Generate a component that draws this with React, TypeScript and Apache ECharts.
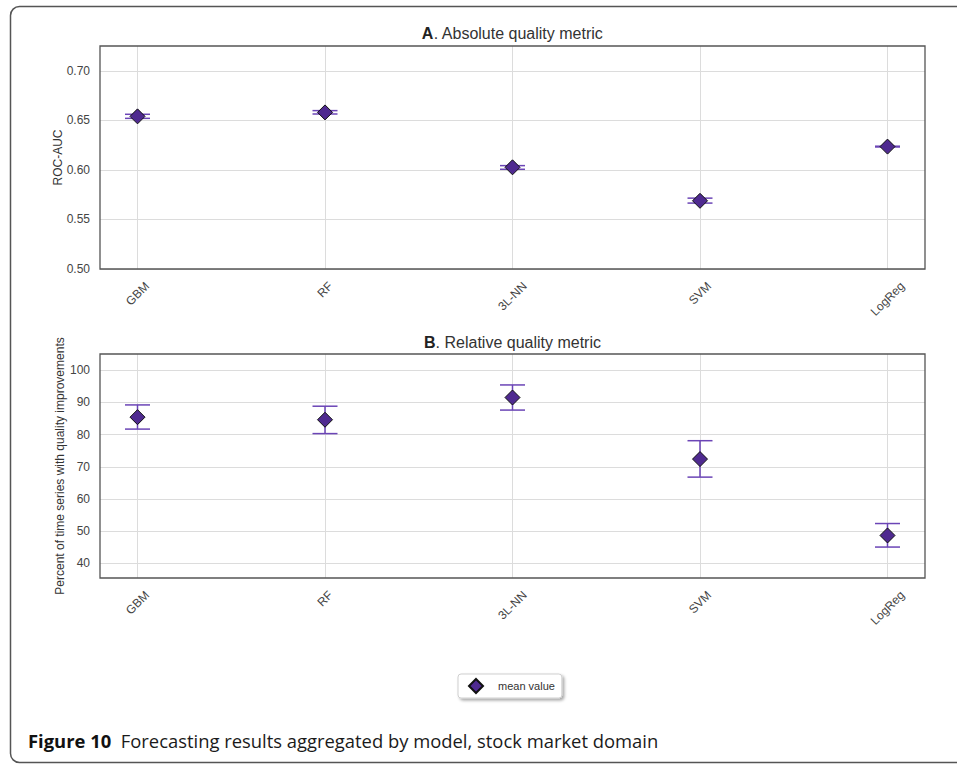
import React, { useEffect, useRef } from "react";
import * as echarts from "echarts";

const categories = ["GBM", "RF", "3L-NN", "SVM", "LogReg"];
const aucMean = [0.654, 0.658, 0.6026, 0.5688, 0.6235];
const aucLow = [0.652, 0.6564, 0.6006, 0.5665, 0.6231];
const aucHigh = [0.6561, 0.6598, 0.6043, 0.5715, 0.6239];
const relMean = [85.4, 84.6, 91.5, 72.4, 48.7];
const relLow = [81.7, 80.3, 87.6, 66.8, 45.1];
const relHigh = [89.2, 88.8, 95.4, 78.1, 52.4];
const aucTicks = [0.5, 0.55, 0.6, 0.65, 0.7];
const relTicks = [40, 50, 60, 70, 80, 90, 100];
const catPositions = [0, 1, 2, 3, 4];

const FONT = "Liberation Sans, Arial, sans-serif";
const CAPFONT = "Open Sans, Noto Sans, sans-serif";
const ERR = "#6b45b6";
const FILL = "#4f2a90";

function measure(s: string, font: string) {
  const c = document.createElement("canvas").getContext("2d");
  if (!c) return s.length * 7;
  c.font = font;
  return c.measureText(s).width;
}

function errRender(params: any, api: any) {
  const x = api.value(0);
  const lo = api.coord([x, api.value(1)]);
  const hi = api.coord([x, api.value(2)]);
  const hw = 12.5;
  const style = { stroke: ERR, lineWidth: 1.5, fill: "none" };
  return {
    type: "group",
    children: [
      { type: "line", shape: { x1: lo[0], y1: lo[1], x2: hi[0], y2: hi[1] }, style },
      { type: "line", shape: { x1: lo[0] - hw, y1: lo[1], x2: lo[0] + hw, y2: lo[1] }, style },
      { type: "line", shape: { x1: hi[0] - hw, y1: hi[1], x2: hi[0] + hw, y2: hi[1] }, style },
    ],
  };
}

function xAxisCfg(gridIndex: number) {
  // centre each rotated label under its tick (matplotlib style)
  const rich: any = {};
  categories.forEach((c, i) => {
    const L = measure(c, "12px 'Liberation Sans'");
    const s = L / 2;
    rich["c" + i] = {
      fontSize: 12,
      color: "#444",
      fontFamily: FONT,
      padding: [s, s, 0, 0],
    };
  });
  return {
    type: "value",
    gridIndex,
    min: -0.2,
    max: 4.2,
    axisLine: { show: false },
    axisTick: { show: false, customValues: catPositions },
    axisLabel: {
      customValues: catPositions,
      rotate: 45,
      margin: 15,
      align: "center",
      verticalAlign: "middle",
      fontSize: 12,
      color: "#444",
      fontFamily: FONT,
      formatter: (v: number) => {
        const i = Math.round(v);
        return categories[i] !== undefined ? `{c${i}|${categories[i]}}` : "";
      },
      rich,
    },
    splitLine: { show: true, lineStyle: { color: "#dcdcdc", width: 1 } },
  };
}

export default function App() {
  const ref = useRef<HTMLDivElement>(null);
  useEffect(() => {
    if (!ref.current) return;
    const chart = echarts.init(ref.current, null, { renderer: "svg" });
    const option: any = {
      animation: false,
      backgroundColor: "#fff",
      grid: [
        { left: 100, top: 46, width: 825, height: 223, show: true, borderColor: "#555", borderWidth: 1.3, backgroundColor: "transparent", z: 3 },
        { left: 100, top: 354, width: 825, height: 224, show: true, borderColor: "#555", borderWidth: 1.3, backgroundColor: "transparent", z: 3 },
      ],
      xAxis: [xAxisCfg(0), xAxisCfg(1)],
      yAxis: [
        {
          type: "value",
          gridIndex: 0,
          min: 0.5,
          max: 0.725,
          axisLine: { show: false },
          axisTick: { show: false, customValues: aucTicks },
          axisLabel: {
            customValues: aucTicks,
            margin: 10,
            fontSize: 12,
            color: "#444",
            fontFamily: FONT,
            formatter: (v: number) => v.toFixed(2),
          },
          splitLine: { show: true, lineStyle: { color: "#dcdcdc", width: 1 } },
          name: "ROC-AUC",
          nameLocation: "middle",
          nameGap: 36,
          nameMoveOverlap: false,
          nameTextStyle: { fontSize: 12, color: "#333", fontFamily: FONT },
        },
        {
          type: "value",
          gridIndex: 1,
          min: 35.5,
          max: 105,
          axisLine: { show: false },
          axisTick: { show: false, customValues: relTicks },
          axisLabel: {
            customValues: relTicks,
            margin: 10,
            fontSize: 12,
            color: "#444",
            fontFamily: FONT,
          },
          splitLine: { show: true, lineStyle: { color: "#dcdcdc", width: 1 } },
          name: "Percent of time series with quality improvements",
          nameLocation: "middle",
          nameGap: 34,
          nameMoveOverlap: false,
          nameTextStyle: { fontSize: 12, color: "#333", fontFamily: FONT },
        },
      ],
      legend: {
        data: [{ name: "mean value", icon: "diamond" }],
        left: 458,
        top: 674,
        orient: "horizontal",
        itemWidth: 14,
        itemHeight: 14,
        padding: [4, 7, 4, 10],
        backgroundColor: "#fff",
        borderColor: "#cfcfcf",
        borderWidth: 1,
        borderRadius: 3,
        shadowColor: "rgba(0,0,0,0.35)",
        shadowBlur: 3,
        shadowOffsetX: 2,
        shadowOffsetY: 2,
        textStyle: { fontSize: 11, color: "#333", fontFamily: FONT, padding: [0, 0, 0, 10] },
      },
      graphic: [
        {
          type: "rect",
          shape: { x: 10.5, y: 6.5, width: 960, height: 756, r: 9 },
          style: { fill: "none", stroke: "#555", lineWidth: 1.5 },
          silent: true,
        },
        {
          type: "text",
          x: 512.5,
          y: 33,
          style: {
            text: "{b|A}. Absolute quality metric",
            fontSize: 16,
            fontFamily: FONT,
            fill: "#333",
            align: "center",
            verticalAlign: "middle",
            rich: { b: { fontWeight: "bold", fontSize: 16, fontFamily: FONT, fill: "#222" } },
          },
        },
        {
          type: "text",
          x: 512.5,
          y: 342,
          style: {
            text: "{b|B}. Relative quality metric",
            fontSize: 16,
            fontFamily: FONT,
            fill: "#333",
            align: "center",
            verticalAlign: "middle",
            rich: { b: { fontWeight: "bold", fontSize: 16, fontFamily: FONT, fill: "#222" } },
          },
        },
        {
          type: "text",
          x: 28,
          y: 740,
          style: {
            text: "{b|Figure 10}  Forecasting results aggregated by model, stock market domain",
            fontSize: 18.4,
            fontFamily: CAPFONT,
            fill: "#1a1a1a",
            align: "left",
            verticalAlign: "middle",
            rich: { b: { fontWeight: "bold", fontSize: 18.4, fontFamily: CAPFONT, fill: "#111" } },
          },
        },
      ],
      series: [
        {
          type: "custom",
          name: "err-a",
          xAxisIndex: 0,
          yAxisIndex: 0,
          renderItem: errRender,
          encode: { x: 0, y: [1, 2] },
          data: catPositions.map((p, i) => [p, aucLow[i], aucHigh[i]]),
          z: 4,
          silent: true,
        },
        {
          type: "custom",
          name: "err-b",
          xAxisIndex: 1,
          yAxisIndex: 1,
          renderItem: errRender,
          encode: { x: 0, y: [1, 2] },
          data: catPositions.map((p, i) => [p, relLow[i], relHigh[i]]),
          z: 4,
          silent: true,
        },
        {
          type: "scatter",
          name: "mean value",
          xAxisIndex: 0,
          yAxisIndex: 0,
          symbol: "diamond",
          symbolSize: 15,
          itemStyle: { color: FILL, borderColor: "#111", borderWidth: 1, opacity: 1 },
          data: catPositions.map((p, i) => [p, aucMean[i]]),
          z: 5,
        },
        {
          type: "scatter",
          name: "mean value",
          xAxisIndex: 1,
          yAxisIndex: 1,
          symbol: "diamond",
          symbolSize: 15,
          itemStyle: { color: FILL, borderColor: "#111", borderWidth: 1, opacity: 1 },
          data: catPositions.map((p, i) => [p, relMean[i]]),
          z: 5,
        },
      ],
    };
    chart.setOption(option);
    return () => chart.dispose();
  }, []);
  return (
    <div
      ref={ref}
      style={{ position: "fixed", left: 0, top: 0, width: 957, height: 767, background: "#fff" }}
    />
  );
}
